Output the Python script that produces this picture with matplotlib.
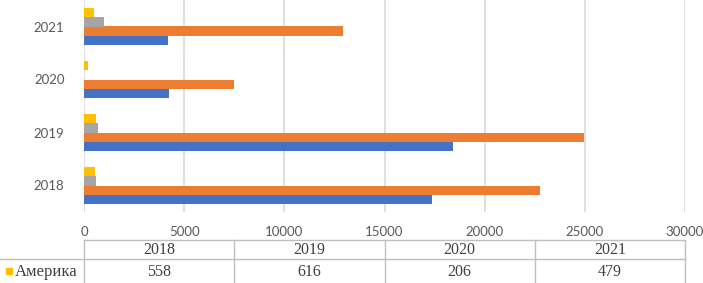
import matplotlib.pyplot as plt
import numpy as np
from matplotlib.lines import Line2D

# Data
years = ['2018', '2019', '2020', '2021']
series_blue = [17350, 18400, 4250, 4180]
series_orange = [22750, 24950, 7500, 12950]
series_gray = [600, 680, 0, 1000]
america = [558, 616, 206, 479]

colors = ['#4472C4', '#ED7D31', '#A5A5A5', '#FFC000']
grid_col = '#D9D9D9'
text_col = '#595959'

W, H = 703, 283
fig = plt.figure(figsize=(W / 100, H / 100), dpi=100)

# main bar axes (pixel box: x 84..685, y 0..212 from top)
ax = fig.add_axes([84 / W, (H - 212) / H, (685 - 84) / W, 212 / H])
y = np.arange(len(years))
h = 0.17
all_series = [series_blue, series_orange, series_gray, america]
for i, (vals, c) in enumerate(zip(all_series, colors)):
    ax.barh(y + (i - 1.5) * h, vals, height=h, color=c, zorder=3)

ax.set_xlim(0, 30000)
ax.set_ylim(-0.5, 3.5)
ax.set_xticks(np.arange(0, 30001, 5000))
ax.set_yticks(y)
ax.set_yticklabels(years)
ax.xaxis.grid(True, color=grid_col, linewidth=1.2, zorder=0)
for s in ax.spines.values():
    s.set_visible(False)
ax.tick_params(length=0, labelsize=9.5, labelcolor=text_col)
ax.tick_params(axis='x', pad=10)
ax.tick_params(axis='y', pad=14)
for lab in ax.get_xticklabels() + ax.get_yticklabels():
    lab.set_fontfamily('Lato')

# data table below the axis
tab = fig.add_axes([84 / W, 0, (685 - 84) / W, 43 / H])
tab.set_xlim(0, len(years))
tab.set_ylim(0, 43)
tab.axis('off')
line_col = '#BFBFBF'
left = -84 / (685 - 84) * len(years)
px = len(years) / (685 - 84)  # data units per pixel
tab.add_line(Line2D([0, len(years)], [43, 43], color=line_col, lw=1, clip_on=False))
tab.add_line(Line2D([left, len(years)], [24, 24], color=line_col, lw=1, clip_on=False))
for k in range(len(years) + 1):
    tab.add_line(Line2D([k, k], [0, 43], color=line_col, lw=1, clip_on=False))
for k, (yr, v) in enumerate(zip(years, america)):
    tab.text(k + 0.5, 33.5, yr, ha='center', va='center', fontsize=11.5,
             family='Liberation Serif', color='#404040')
    tab.text(k + 0.5, 11.5, str(v), ha='center', va='center', fontsize=11.5,
             family='Liberation Serif', color='#404040')
tab.plot([left + 8.5 * px], [12], marker='s', markersize=4.5, color=colors[3],
         clip_on=False, linestyle='none')
tab.text(left + 15 * px, 11.5, 'Америка', ha='left', va='center', fontsize=12,
         family='Liberation Serif', color='#404040')

fig.savefig('out.png', dpi=100)
